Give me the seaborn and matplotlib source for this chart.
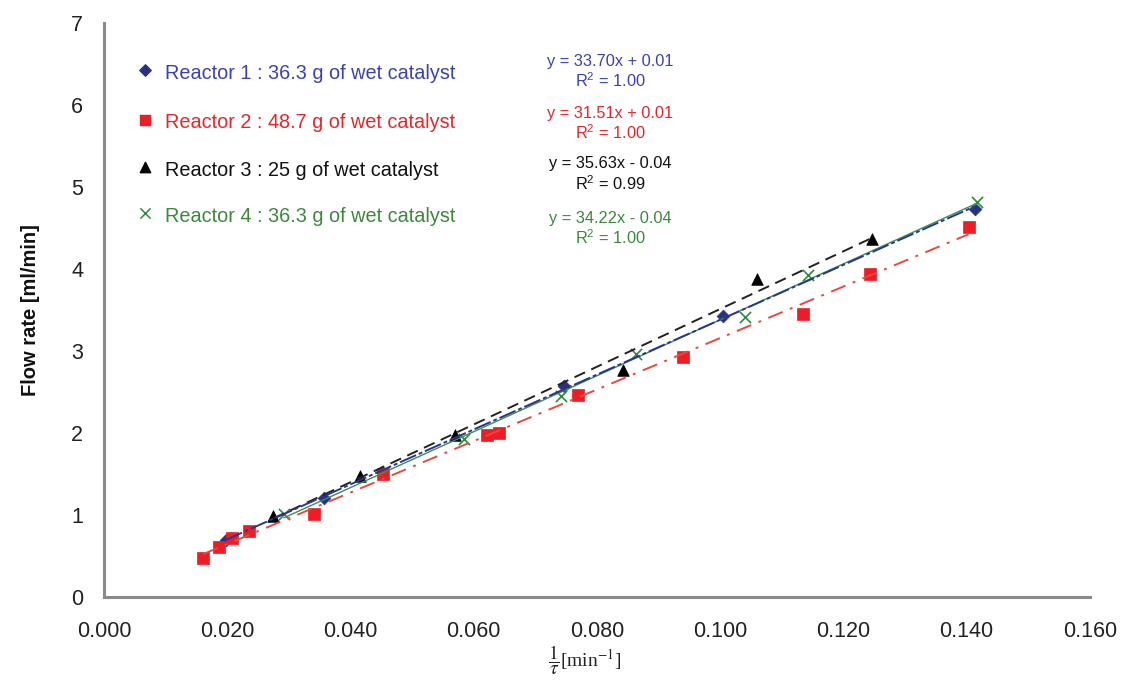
import numpy as np
import pandas as pd
import matplotlib
matplotlib.use("Agg")
import matplotlib.pyplot as plt
import seaborn as sns

# ---- data ----
r1_x = [0.0198, 0.0357, 0.0452, 0.0747, 0.1004, 0.1414]
r1_y = [0.70, 1.21, 1.52, 2.57, 3.43, 4.73]

r2_x = [0.0161, 0.0187, 0.0208, 0.0235, 0.0341, 0.0453, 0.0622, 0.0641,
        0.0769, 0.0939, 0.1135, 0.1243, 0.1403]
r2_y = [0.47, 0.61, 0.72, 0.81, 1.01, 1.50, 1.98, 2.00,
        2.46, 2.93, 3.45, 3.94, 4.51]

r3_x = [0.0275, 0.0415, 0.0569, 0.0842, 0.1059, 0.1246]
r3_y = [0.99, 1.48, 1.98, 2.77, 3.87, 4.36]

r4_x = [0.0292, 0.0584, 0.0741, 0.0863, 0.1040, 0.1143, 0.1416]
r4_y = [1.01, 1.93, 2.45, 2.96, 3.41, 3.93, 4.82]

legend_labels = ["Reactor 1 : 36.3 g of wet catalyst",
                 "Reactor 2 : 48.7 g of wet catalyst",
                 "Reactor 3 : 25 g of wet catalyst",
                 "Reactor 4 : 36.3 g of wet catalyst"]
equations = ["y = 33.70x + 0.01\nR$^2$ = 1.00",
             "y = 31.51x + 0.01\nR$^2$ = 1.00",
             "y = 35.63x - 0.04\nR$^2$ = 0.99",
             "y = 34.22x - 0.04\nR$^2$ = 1.00"]
x_ticks = [0.000, 0.020, 0.040, 0.060, 0.080, 0.100, 0.120, 0.140, 0.160]
y_ticks = [0, 1, 2, 3, 4, 5, 6, 7]

# ---- styling ----
sns.set_theme(style="white")
plt.rcParams['font.family'] = ['Liberation Sans', 'DejaVu Sans']
plt.rcParams['mathtext.fontset'] = 'custom'
plt.rcParams['mathtext.rm'] = 'Liberation Sans'

fig = plt.figure(figsize=(11.25, 6.82), dpi=100)
ax = fig.add_axes([0.0924, 0.1247, 0.8764, 0.8420])

mk_col = ["#28308c", "#ee1c24", "#000000", "#2e8b3a"]
txt_col = ["#3b41b0", "#e4272b", "#111111", "#3a8a3a"]
line_col = ["#2a3590", "#e5493f", "#222222", "#3f8f4a"]
markers = ["D", "s", "^", "x"]
sizes = [42, 75, 70, 65]
styles = [(0, (9, 1.5, 2, 1.5)), (0, (8, 4, 1.5, 4)), (0, (6, 3.5)), "-"]

xs = [r1_x, r2_x, r3_x, r4_x]
ys = [r1_y, r2_y, r3_y, r4_y]

for i in range(4):
    df = pd.DataFrame({"x": xs[i], "y": ys[i]})
    if markers[i] == "x":
        sns.scatterplot(data=df, x="x", y="y", ax=ax, marker="x",
                        color=mk_col[i], s=sizes[i], linewidth=1.2, zorder=3)
    else:
        sns.scatterplot(data=df, x="x", y="y", ax=ax, marker=markers[i],
                        color=mk_col[i], s=sizes[i], edgecolor=mk_col[i],
                        linewidth=0.5, zorder=3)

order = [3, 2, 1, 0]
for i in order:
    df = pd.DataFrame({"x": xs[i], "y": ys[i]})
    sns.regplot(data=df, x="x", y="y", ax=ax, scatter=False, ci=None,
                truncate=True,
                line_kws=dict(color=line_col[i], linestyle=styles[i],
                              linewidth=1.4 if i != 3 else 1.0, zorder=4))

ax.set_xlim(0, 0.16)
ax.set_ylim(0, 7)
ax.set_xticks(x_ticks)
ax.set_xticklabels([f"{v:.3f}" for v in x_ticks])
ax.set_yticks(y_ticks)
ax.set_yticklabels([str(v) for v in y_ticks])
ax.tick_params(axis="both", labelsize=15.5, colors="#222222",
               direction="out", length=5, width=1.2, pad=10)
ax.tick_params(axis="x", pad=12)
for t in ax.get_xticklines() + ax.get_yticklines():
    t.set_color("#808080")
sns.despine(ax=ax, top=True, right=True)
for sp in ["left", "bottom"]:
    ax.spines[sp].set_color("#8a8a8a")
    ax.spines[sp].set_linewidth(2.2)

ax.set_ylabel("Flow rate [ml/min]", fontsize=14.5, fontweight="bold",
              color="#111111", labelpad=22)
ax.set_xlabel("")
fig.text(0.52, 0.031, r"$\dfrac{1}{\tau}$[min$^{-1}$]", fontsize=14,
         ha="center", va="center", family="Liberation Serif",
         math_fontfamily="stix", color="#222222")

# custom legend
leg_y = [6.38, 5.78, 5.20, 4.64]
for i in range(4):
    yv = leg_y[i]
    if markers[i] == "x":
        ax.scatter([0.0066], [yv + 0.04], marker="x", color=mk_col[i], s=55,
                   linewidth=1.1, clip_on=False)
    else:
        ax.scatter([0.0066], [yv + 0.04], marker=markers[i], color=mk_col[i],
                   s=sizes[i] * 0.8, clip_on=False)
    ax.text(0.0099, yv, legend_labels[i], fontsize=14.3, color=txt_col[i],
            va="center", ha="left")

eq_y = [6.40, 5.76, 5.15, 4.48]
for i in range(4):
    ax.text(0.0822, eq_y[i], equations[i], fontsize=11.8, color=txt_col[i],
            va="center", ha="center", linespacing=1.15)

fig.savefig("out.png", dpi=100)
